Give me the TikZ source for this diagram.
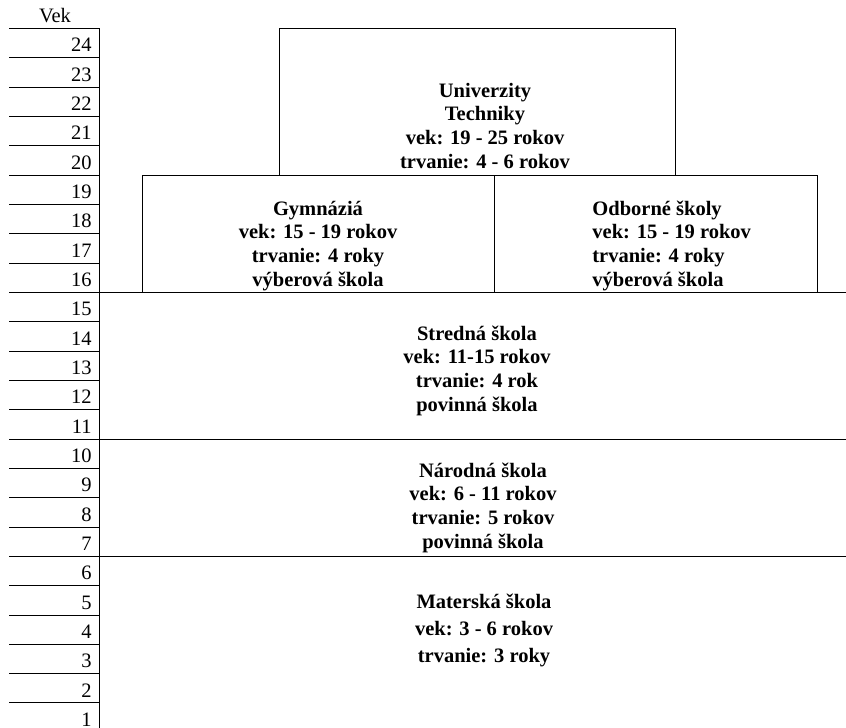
\documentclass[tikz,border=0pt]{standalone}
\usepackage{fontspec}
\setmainfont{Liberation Serif}
\begin{document}
\begin{tikzpicture}[x=1pt,y=-1pt,line width=0.8pt,
  vek/.style={anchor=base east,inner sep=0pt,font=\fontsize{20.5}{24}\selectfont},
  stupen/.style={anchor=base,inner sep=0pt,align=center,font=\fontsize{20.5}{23.6}\selectfont\bfseries}]
\useasboundingbox (0,0) rectangle (846,728);
\path (55,23) node[anchor=base,inner sep=0pt,font=\fontsize{20.5}{24}\selectfont] (Vek) {Vek};
\foreach \r [evaluate=\r as \y using {28.3+29.33*(24-\r)}] in {24,23,...,1} {
  \draw (9,\y) -- (99,\y);
  \path (92,\y+23.5) node[vek] (r\r) {\r};
}
\draw (99,28.3) -- (99,728);

\draw (279,28.3) rectangle (675,175);
\draw (142,292.3) |- (817,175) -- (817,292.3);
\draw (494,175) -- (494,292.3);
\draw (99,292.3) -- (846,292.3);
\draw (99,438.9) -- (846,438.9);
\draw (99,556.2) -- (846,556.2);

\path (485,168) node[stupen] (U) {Univerzity\\Techniky\\vek: 19 - 25 rokov\\trvanie: 4 - 6 rokov};
\path (318,286) node[stupen] (G) {Gymnáziá\\vek: 15 - 19 rokov\\trvanie: 4 roky\\výberová škola};
\path (592,286) node[stupen,anchor=base west,align=left] (O) {Odborné školy\\vek: 15 - 19 rokov\\trvanie: 4 roky\\výberová škola};
\path (477,411) node[stupen] (S) {Stredná škola\\vek: 11-15 rokov\\trvanie: 4 rok\\povinná škola};
\path (483,548) node[stupen] (N) {Národná škola\\vek: 6 - 11 rokov\\trvanie: 5 rokov\\povinná škola};
\path (484,662) node[stupen,font=\fontsize{20.5}{27}\selectfont\bfseries] (M) {Materská škola\\vek: 3 - 6 rokov\\trvanie: 3 roky};
\end{tikzpicture}
\end{document}
